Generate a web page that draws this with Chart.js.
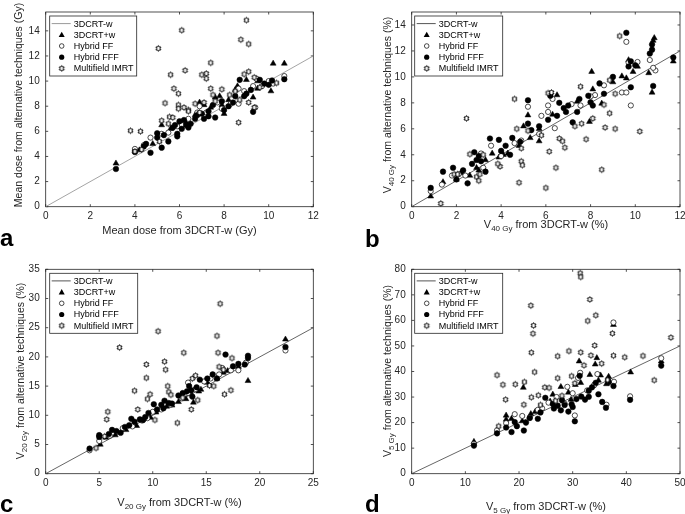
<!DOCTYPE html>
<html>
<head>
<meta charset="utf-8">
<script src="https://cdn.jsdelivr.net/npm/chart.js@4.4.1/dist/chart.umd.min.js"></script>
<style>
  html, body { margin: 0; padding: 0; background: #fff; width: 685px; height: 514px; overflow: hidden; position: relative; }
  canvas { position: absolute; }
  .t { position: absolute; font-family: "Liberation Sans", Arial, sans-serif; font-size: 11px; color: #262626; white-space: nowrap; line-height: 12px; }
  .t.v { font-size: 10.5px; }
  .t sub { font-size: 8px; vertical-align: -3px; line-height: 0; }
  .rot { transform: translate(-50%, -50%) rotate(-90deg); }
  .hor { transform: translate(-50%, -50%); }
  .lab { position: absolute; font-family: "Liberation Sans", Arial, sans-serif; font-weight: bold; font-size: 24px; line-height: 24px; color: #000; }
</style>
</head>
<body>
<canvas id="ca"></canvas>
<canvas id="cb"></canvas>
<canvas id="cc"></canvas>
<canvas id="cd"></canvas>

<div class="t hor" style="left:179.5px; top:230px;">Mean dose from 3DCRT-w (Gy)</div>
<div class="t v rot" style="left:18px; top:105px;">Mean dose from alternative techniques (Gy)</div>
<div class="t hor" style="left:546px; top:224px;">V<sub>40 Gy</sub> from 3DCRT-w (%)</div>
<div class="t v rot" style="left:387px; top:105px;">V<sub>40 Gy</sub> from alternative techniques (%)</div>
<div class="t hor" style="left:179.5px; top:502px;">V<sub>20 Gy</sub> from 3DCRT-w (%)</div>
<div class="t v rot" style="left:20px; top:371px;">V<sub>20 Gy</sub> from alternative techniques (%)</div>
<div class="t hor" style="left:546px; top:506px;">V<sub>5 Gy</sub> from 3DCRT-w (%)</div>
<div class="t v rot" style="left:387px; top:371px;">V<sub>5 Gy</sub> from alternative techniques (%)</div>

<div class="lab" style="left:0px; top:226px;">a</div>
<div class="lab" style="left:365px; top:227px;">b</div>
<div class="lab" style="left:0px; top:492px;">c</div>
<div class="lab" style="left:365px; top:492px;">d</div>

<script>
// legend names
const techniques = ['3DCRT-w', '3DCRT+w', 'Hybrid FF', 'Hybrid FFF', 'Multifield IMRT']

// ---- panel a: mean dose (Gy) ----
const aXTicks = [0, 2, 4, 6, 8, 10, 12]
const aYTicks = [0, 2, 4, 6, 8, 10, 12, 14]
const aLine = [0, 12]
const aTri = [[3.15,3.45],[5.2,6.5],[6.9,8.3],[7.6,8.7],[7.8,8.8],[8.5,9.3],[8.6,9.6],[9.0,10.1],[9.3,8.7],[9.5,9.4],[10.1,9.2],[10.2,11.4],[10.7,11.4],[8.0,7.4],[7.1,8.1],[6.7,7.3],[4.8,5.0],[5.6,6.2],[7.4,7.9],[9.5,10.0],[8.2,8.5],[6.3,6.7],[4.2,4.5],[7.9,8.1]]
const aFF = [[4.0,4.6],[4.7,5.5],[5.5,5.9],[6.1,6.5],[6.8,7.5],[6.9,8.0],[7.7,8.3],[8.3,8.2],[8.65,8.2],[8.65,9.4],[9.3,9.6],[9.4,7.9],[9.45,10.2],[10.0,10.0],[10.2,9.8],[10.7,10.4],[5.2,5.8],[6.4,7.0],[7.2,7.5],[7.9,7.8],[8.9,9.2],[9.7,9.6],[5.9,6.4],[4.4,4.9]]
const aFFF = [[3.15,3.0],[4.0,4.35],[4.7,4.3],[5.2,4.7],[4.4,4.8],[4.5,5.0],[5.5,5.2],[5.9,5.6],[5.9,5.8],[6.4,6.3],[5.0,5.5],[5.3,5.7],[5.0,5.85],[6.0,6.8],[6.2,6.9],[6.5,6.6],[6.8,7.3],[7.1,7.0],[7.3,7.2],[7.6,7.1],[7.5,8.1],[8.0,7.7],[8.2,8.0],[8.5,8.8],[8.7,10.1],[8.9,8.8],[9.0,9.0],[9.3,7.55],[9.6,10.1],[10.0,9.7],[10.15,10.05],[10.7,10.15],[6.7,7.0],[7.0,7.4],[5.7,6.3],[6.1,6.2],[7.9,8.4],[8.4,8.3],[9.2,9.3],[9.8,9.8],[5.8,6.5],[6.3,6.5],[7.3,7.6]]
const aIMRT = [[9.0,14.85],[6.1,14.05],[5.05,12.6],[8.75,13.3],[9.1,12.95],[7.4,11.45],[6.25,10.85],[5.6,10.5],[7.0,10.5],[7.2,10.6],[7.2,10.2],[5.75,9.4],[5.95,9.0],[7.4,9.4],[7.5,8.9],[5.35,8.25],[5.95,8.1],[6.2,7.9],[6.4,7.7],[5.95,7.8],[5.55,7.15],[5.7,7.1],[5.2,6.85],[3.8,6.05],[4.25,6.0],[8.65,6.7],[9.1,10.75],[8.9,10.55],[9.35,10.3],[10.35,9.85],[9.1,8.3],[9.35,7.9],[8.25,8.9],[8.7,8.5],[7.1,8.3],[6.7,8.2],[7.9,9.35],[6.4,7.6],[5.5,6.6],[4.3,4.55],[4.0,4.4],[5.1,5.2],[6.9,7.5],[7.6,8.4],[9.6,9.5],[8.5,9.2]]

// ---- panel b: V40Gy (%) ----
const bXTicks = [0, 2, 4, 6, 8, 10, 12]
const bYTicks = [0, 2, 4, 6, 8, 10, 12, 14]
const bLine = [0, 12]
const bTri = [[0.85,0.8],[1.4,1.9],[2.2,2.6],[2.6,2.4],[2.9,3.0],[3.3,3.6],[3.9,3.8],[4.3,4.1],[4.8,4.7],[5.2,7.05],[5.0,6.2],[5.3,5.3],[5.7,5.05],[5.7,6.0],[6.5,8.6],[7.4,8.1],[7.95,6.55],[8.05,10.4],[8.1,9.05],[8.5,7.95],[9.0,9.6],[9.4,10.05],[9.6,9.9],[9.7,11.3],[9.9,10.4],[10.1,10.8],[10.6,10.3],[10.75,8.8],[10.8,12.8],[10.85,13.0],[11.7,11.2],[3.6,4.1],[4.1,4.0],[6.3,7.1],[2.0,2.1],[3.0,2.8]]
const bFF = [[0.85,1.2],[1.35,1.7],[1.8,2.4],[2.1,2.5],[3.1,4.1],[3.55,4.7],[4.0,3.9],[4.6,4.9],[5.2,7.7],[5.8,7.0],[6.1,7.8],[6.1,7.3],[6.4,6.05],[6.3,8.3],[7.15,7.9],[7.55,7.8],[8.2,8.6],[8.0,8.5],[8.6,9.35],[9.4,8.8],[9.6,8.8],[9.6,12.7],[9.8,7.8],[9.7,11.1],[10.1,11.15],[10.65,11.3],[10.9,10.5],[10.8,10.7],[5.7,5.6],[4.9,5.1],[3.2,3.0],[2.4,2.4]]
const bFFF = [[0.85,1.45],[1.4,2.7],[1.85,3.0],[2.5,1.8],[2.0,2.1],[2.3,2.8],[2.8,4.2],[2.9,3.6],[3.1,3.5],[3.3,2.7],[3.5,5.25],[3.9,5.15],[4.0,4.3],[4.2,4.7],[4.4,4.0],[4.5,5.3],[4.85,5.0],[5.2,8.2],[5.2,6.4],[5.35,5.9],[5.7,6.2],[6.1,6.7],[6.2,8.55],[6.6,8.0],[6.8,7.6],[7.0,7.8],[7.4,7.3],[7.5,8.3],[7.2,6.5],[7.9,8.55],[8.0,8.05],[8.1,7.8],[8.4,9.5],[8.6,8.7],[9.0,10.0],[9.6,13.4],[9.7,10.8],[9.8,9.2],[9.8,11.2],[10.0,10.9],[10.65,11.8],[10.75,12.1],[10.75,12.5],[10.8,9.3],[11.7,11.5],[6.5,7.0],[6.9,7.3],[3.0,3.9],[2.7,3.3]]
const bIMRT = [[9.3,13.15],[4.6,8.3],[2.45,6.8],[6.1,8.75],[7.55,9.25],[8.85,9.75],[9.1,8.7],[8.6,7.85],[8.85,7.2],[8.65,6.1],[9.1,6.0],[10.2,5.8],[7.3,6.2],[7.6,6.4],[8.1,6.8],[7.8,5.2],[6.6,5.25],[6.75,5.05],[6.85,4.55],[6.15,4.25],[6.45,3.0],[6.0,1.45],[8.5,2.85],[4.8,1.85],[4.9,3.5],[4.95,3.2],[3.95,3.1],[3.85,3.3],[1.3,0.25],[2.9,2.3],[3.0,2.0],[3.05,2.5],[1.9,2.5],[2.05,2.5],[3.2,4.0],[2.6,4.05],[4.9,4.5],[5.8,5.5],[5.2,5.85],[4.7,6.0],[6.25,8.8]]

// ---- panel c: V20Gy (%) ----
const cXTicks = [0, 5, 10, 15, 20, 25]
const cYTicks = [0, 5, 10, 15, 20, 25, 30, 35]
const cLine = [0, 25]
const cTri = [[5.1,5.0],[5.6,6.2],[6.5,6.6],[7.5,7.5],[8.5,8.2],[9.8,9.6],[10.3,10.5],[11.3,11.5],[11.8,11.7],[13.1,12.8],[13.5,14.0],[13.8,12.2],[14.5,14.4],[15.1,15.6],[16.0,16.3],[16.6,17.3],[17.0,17.6],[18.0,18.3],[18.9,15.9],[22.4,23.0],[12.4,12.3],[14.3,14.1]]
const cFF = [[4.1,4.0],[5.0,5.6],[6.0,6.5],[7.2,7.8],[8.1,8.1],[9.0,9.1],[10.0,10.6],[10.8,11.0],[11.7,11.8],[12.7,12.9],[13.3,13.8],[14.0,14.5],[14.8,15.8],[15.4,16.3],[16.2,17.0],[17.3,17.7],[18.0,17.7],[18.7,19.0],[22.4,21.1],[16.5,18.1],[13.3,15.6],[9.5,9.5]]
const cFFF = [[4.1,4.3],[5.0,6.3],[5.0,6.6],[5.9,6.8],[6.2,7.5],[6.6,7.3],[7.0,7.0],[7.4,8.0],[7.8,8.3],[8.0,9.4],[8.3,8.9],[8.8,9.3],[9.1,9.2],[9.3,9.7],[9.6,10.4],[10.1,11.9],[10.4,11.0],[10.8,11.8],[11.1,12.5],[11.5,12.1],[11.8,12.0],[12.4,13.4],[12.8,13.8],[13.2,14.1],[13.4,15.0],[13.6,14.3],[14.1,14.8],[14.4,16.1],[15.1,16.3],[15.6,17.0],[16.0,16.3],[16.8,20.4],[17.5,18.4],[18.0,18.8],[18.6,18.7],[18.9,20.2],[18.9,19.8],[22.4,21.7],[13.7,13.2],[11.0,11.2]]
const cIMRT = [[16.3,29.1],[10.5,24.4],[6.9,21.6],[12.9,20.7],[16.0,23.6],[16.1,20.7],[17.4,19.8],[11.1,19.2],[11.2,17.8],[9.4,18.7],[9.4,16.4],[5.8,10.6],[5.7,9.3],[8.3,14.2],[9.75,13.6],[9.5,12.8],[8.6,11.0],[10.2,9.2],[12.3,8.7],[13.6,11.0],[14.2,12.6],[16.7,13.6],[17.3,14.3],[13.7,16.3],[11.4,15.0],[11.5,14.0],[11.7,13.5],[15.3,15.1],[15.7,15.0],[16.2,18.3],[4.7,4.4],[5.5,6.4],[12.8,13.0],[14.0,16.8],[16.6,17.8]]

// ---- panel d: V5Gy (%) ----
const dXTicks = [0, 10, 20, 30, 40, 50]
const dYTicks = [0, 10, 20, 30, 40, 50, 60, 70, 80]
const dLine = [0, 50]
const dTri = [[11.6,12.5],[17.6,22.8],[17.6,21.2],[18.6,21.5],[20.8,33.7],[20.6,20.6],[22.2,23.4],[23.0,24.2],[26.3,31.0],[27.8,34.0],[29.2,31.8],[30.5,34.8],[31.2,44.0],[31.5,35.6],[33.2,38.7],[34.2,42.8],[34.5,45.3],[34.8,36.5],[35.2,38.5],[36.3,35.1],[36.7,38.0],[36.6,37.2],[37.6,58.3],[40.8,39.7],[46.5,44.0],[33.8,34.5],[29.7,29.0],[25.8,28.3]]
const dFF = [[11.6,11.7],[15.9,17.0],[17.6,19.8],[19.2,23.3],[20.6,22.6],[22.0,22.0],[23.5,25.0],[25.5,27.8],[27.0,30.0],[28.5,27.4],[30.4,22.8],[30.0,31.5],[31.4,39.5],[32.7,32.6],[34.0,34.7],[34.6,39.0],[36.3,27.0],[37.6,59.2],[37.7,36.0],[40.7,30.3],[46.5,45.2],[29.0,34.0],[31.0,37.5],[24.3,25.6]]
const dFFF = [[11.6,11.0],[15.9,15.8],[17.6,18.1],[18.6,16.3],[19.2,20.2],[19.6,18.6],[20.9,16.9],[21.3,20.0],[22.0,21.8],[23.5,21.5],[24.0,24.0],[24.9,29.7],[26.5,25.5],[27.2,26.6],[27.8,24.8],[28.5,26.9],[29.2,24.3],[29.8,27.2],[30.4,20.5],[30.7,29.2],[31.3,38.3],[31.6,30.2],[32.3,29.0],[33.0,32.5],[33.6,33.8],[34.3,35.6],[34.8,31.1],[35.5,28.1],[36.2,25.8],[36.7,35.8],[37.6,34.3],[40.7,28.9],[46.5,42.3],[26.3,27.3],[30.0,26.1],[28.0,28.8],[33.0,30.1]]
const dIMRT = [[31.4,78.5],[31.5,77.0],[33.2,68.2],[34.3,62.0],[32.8,59.8],[22.2,65.8],[22.7,58.0],[22.6,54.8],[22.3,47.4],[22.9,39.8],[15.9,38.6],[17.0,34.8],[19.3,35.0],[21.0,35.9],[17.5,29.0],[20.9,27.0],[22.3,29.9],[23.6,30.7],[24.8,33.8],[25.6,33.6],[27.2,46.0],[29.3,48.0],[31.5,47.5],[33.4,46.3],[34.1,50.2],[37.4,54.9],[37.6,46.2],[39.7,45.6],[43.1,46.1],[45.2,36.6],[48.3,53.3],[35.4,43.1],[32.1,42.4],[29.8,38.2],[27.2,37.4],[30.4,35.4],[26.8,28.5],[24.0,26.9],[16.2,18.6],[28.0,30.5],[36.5,36.7]]

const FONT = '"Liberation Sans", Arial, sans-serif'
const AXIS = '#262626'

// open hexagram marker (MATLAB 'h')
function makeStar(R) {
  const c = document.createElement('canvas')
  const s = Math.ceil(R * 2 + 3)
  c.width = s; c.height = s
  const g = c.getContext('2d')
  g.translate(s / 2, s / 2)
  g.beginPath()
  for (let i = 0; i < 12; i++) {
    const ang = -Math.PI / 2 + i * Math.PI / 6
    const r = i % 2 ? R / Math.sqrt(3) : R
    const px = r * Math.cos(ang), py = r * Math.sin(ang)
    if (i === 0) g.moveTo(px, py); else g.lineTo(px, py)
  }
  g.closePath()
  g.fillStyle = '#fff'
  g.fill()
  g.strokeStyle = '#000'
  g.lineWidth = 1
  g.stroke()
  return c
}
const star = makeStar(2.9)

const pts = arr => arr.map(p => ({ x: p[0], y: p[1] }))

// box + inward ticks
const frame = {
  id: 'frame',
  beforeDatasetsDraw(chart) {
    const { ctx, chartArea: a, scales: { x, y } } = chart
    ctx.save()
    ctx.strokeStyle = AXIS
    ctx.lineWidth = 0.8
    ctx.strokeRect(a.left, a.top, a.right - a.left, a.bottom - a.top)
    const tl = 2.5
    ctx.beginPath()
    x.ticks.forEach(t => {
      const px = x.getPixelForValue(t.value)
      ctx.moveTo(px, a.bottom); ctx.lineTo(px, a.bottom - tl)
      ctx.moveTo(px, a.top); ctx.lineTo(px, a.top + tl)
    })
    y.ticks.forEach(t => {
      const py = y.getPixelForValue(t.value)
      ctx.moveTo(a.left, py); ctx.lineTo(a.left + tl, py)
      ctx.moveTo(a.right, py); ctx.lineTo(a.right - tl, py)
    })
    ctx.stroke()
    ctx.restore()
  }
}

// MATLAB-style legend box in the upper-left corner
const boxLegend = {
  id: 'boxLegend',
  afterDatasetsDraw(chart, args, opts) {
    const { ctx, chartArea: a } = chart
    const bx = a.left + opts.dx, by = a.top + opts.dy
    const w = opts.w, rowH = 11.2
    const h = rowH * 5 + 4
    ctx.save()
    ctx.fillStyle = '#fff'
    ctx.fillRect(bx, by, w, h)
    ctx.strokeStyle = AXIS
    ctx.lineWidth = 0.8
    ctx.strokeRect(bx, by, w, h)
    ctx.font = '9px ' + FONT
    ctx.textBaseline = 'middle'
    techniques.forEach((name, i) => {
      const cy = by + 2 + rowH * (i + 0.5)
      const mx = bx + 12
      if (i === 0) {
        ctx.strokeStyle = opts.lineColor
        ctx.lineWidth = 1
        ctx.beginPath(); ctx.moveTo(bx + 2, cy); ctx.lineTo(bx + 21, cy); ctx.stroke()
      } else if (i === 1) {
        ctx.fillStyle = '#000'
        ctx.beginPath(); ctx.moveTo(mx, cy - 3); ctx.lineTo(mx + 3, cy + 2.3); ctx.lineTo(mx - 3, cy + 2.3); ctx.closePath(); ctx.fill()
      } else if (i === 2) {
        ctx.strokeStyle = '#000'; ctx.lineWidth = 0.7
        ctx.beginPath(); ctx.arc(mx, cy, 2.3, 0, Math.PI * 2); ctx.stroke()
      } else if (i === 3) {
        ctx.fillStyle = '#000'
        ctx.beginPath(); ctx.arc(mx, cy, 2.6, 0, Math.PI * 2); ctx.fill()
      } else {
        ctx.drawImage(star, mx - star.width / 2, cy - star.height / 2)
      }
      ctx.fillStyle = '#000'
      ctx.fillText(name, bx + 24, cy + 0.5)
    })
    ctx.restore()
  }
}

function makeChart(id, pos, cfg) {
  const el = document.getElementById(id)
  el.style.left = pos.left + 'px'
  el.style.top = pos.top + 'px'
  el.width = pos.w
  el.height = pos.h
  el.style.width = pos.w + 'px'
  el.style.height = pos.h + 'px'
  const tickFont = { family: FONT, size: 10 }
  return new Chart(el, {
    type: 'scatter',
    data: {
      datasets: [
        { label: techniques[0], data: cfg.line.map(v => ({ x: v, y: v })), showLine: true, pointRadius: 0, borderColor: cfg.lineColor, borderWidth: 0.9, order: 5 },
        { label: techniques[1], data: pts(cfg.tri), pointStyle: 'triangle', pointRadius: 3.4, backgroundColor: '#000', borderColor: '#000', borderWidth: 0.5, order: 4 },
        { label: techniques[2], data: pts(cfg.ff), pointStyle: 'circle', pointRadius: 2.6, backgroundColor: '#fff', borderColor: '#000', borderWidth: 0.7, order: 3 },
        { label: techniques[3], data: pts(cfg.fff), pointStyle: 'circle', pointRadius: 2.8, backgroundColor: '#000', borderColor: '#000', borderWidth: 0.5, order: 2 },
        { label: techniques[4], data: pts(cfg.imrt), pointStyle: star, pointRadius: 3, order: 1 }
      ]
    },
    options: {
      responsive: false,
      animation: false,
      events: [],
      layout: { padding: { left: 0, top: cfg.top, right: cfg.right, bottom: 0 } },
      plugins: {
        legend: { display: false },
        tooltip: { enabled: false },
        boxLegend: { dx: cfg.legDx, dy: 4, w: cfg.legW, lineColor: cfg.lineColor }
      },
      scales: {
        x: {
          type: 'linear', min: cfg.xTicks[0], max: cfg.xTicks[cfg.xTicks.length - 1],
          afterBuildTicks: s => { s.ticks = cfg.xTicks.map(v => ({ value: v })) },
          afterFit: s => { s.height = cfg.xH },
          grid: { display: false, drawTicks: false },
          border: { display: false },
          ticks: { font: tickFont, color: AXIS, padding: 4, maxRotation: 0, autoSkip: false }
        },
        y: {
          type: 'linear', min: 0, max: cfg.yMax,
          afterBuildTicks: s => { s.ticks = cfg.yTicks.map(v => ({ value: v })) },
          afterFit: s => { s.width = cfg.yW },
          grid: { display: false, drawTicks: false },
          border: { display: false },
          ticks: { font: tickFont, color: AXIS, padding: 6, autoSkip: false }
        }
      }
    },
    plugins: [frame, boxLegend]
  })
}

makeChart('ca', { left: 0, top: 0, w: 340, h: 257 }, {
  line: aLine, tri: aTri, ff: aFF, fff: aFFF, imrt: aIMRT, xTicks: aXTicks, yTicks: aYTicks,
  yMax: 15.5, top: 1, right: 26.7, xH: 50.3, yW: 45.7, legDx: 4, legW: 87, lineColor: '#9a9a9a'
})
makeChart('cb', { left: 340, top: 0, w: 360, h: 257 }, {
  line: bLine, tri: bTri, ff: bFF, fff: bFFF, imrt: bIMRT, xTicks: bXTicks, yTicks: bYTicks,
  yMax: 15, top: 2.7, right: 20, xH: 50.3, yW: 71.7, legDx: 3, legW: 88, lineColor: '#555'
})
makeChart('cc', { left: 0, top: 257, w: 340, h: 257 }, {
  line: cLine, tri: cTri, ff: cFF, fff: cFFF, imrt: cIMRT, xTicks: cXTicks, yTicks: cYTicks,
  yMax: 35, top: 12.3, right: 26.7, xH: 40.3, yW: 45.7, legDx: 4, legW: 88, lineColor: '#555'
})
makeChart('cd', { left: 340, top: 257, w: 360, h: 257 }, {
  line: dLine, tri: dTri, ff: dFF, fff: dFFF, imrt: dIMRT, xTicks: dXTicks, yTicks: dYTicks,
  yMax: 80, top: 12.3, right: 20, xH: 40.3, yW: 71.7, legDx: 3, legW: 88, lineColor: '#555'
})
</script>
</body>
</html>
